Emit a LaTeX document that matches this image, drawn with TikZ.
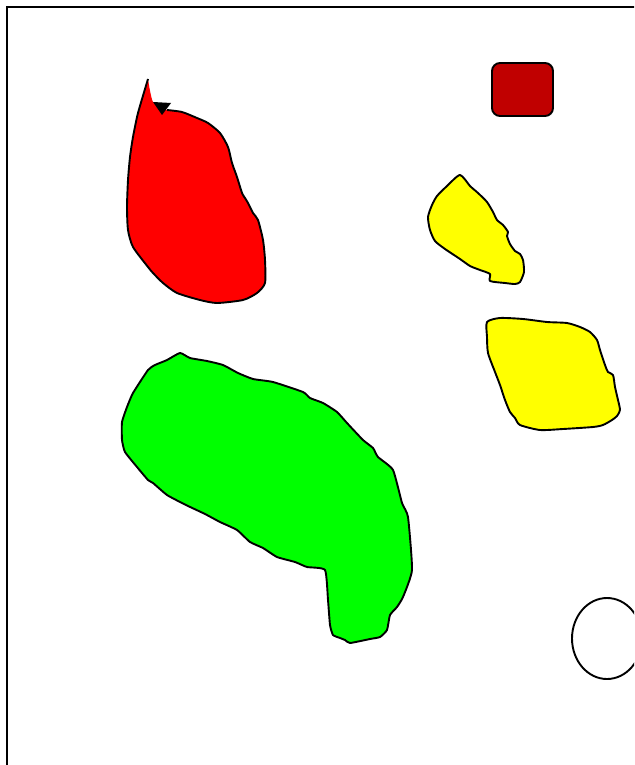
\documentclass[tikz,border=0pt]{standalone}
\usepackage{tikz}
\usetikzlibrary{arrows.meta}
\definecolor{mRed}{HTML}{FF0000}
\definecolor{mDark}{HTML}{C00000}
\definecolor{mGreen}{HTML}{00FF00}
\definecolor{mYellow}{HTML}{FFFF00}
\begin{document}
\begin{tikzpicture}[x=1pt, y=-1pt, outline/.style={draw=black, line width=1.9pt, line join=round}]
    \useasboundingbox (0,0) rectangle (634,765);
    \clip (0,0) rectangle (634,765);
    \draw[line width=1.9pt] (7,800) -- (7,7) -- (700,7);
    % red island with open outline
    \fill[mRed] plot[smooth, tension=0.4] coordinates {(148,79) (153,102) (167,110) (182,112) (197,118) (208,123) (220,133) (228,147) (232,163) (237,177) (242,193) (245,198) (248,203) (253,213) (258,220) (263,240) (265,260) (265,283) (257,293) (243,300) (217,303) (200,300) (177,293) (163,283) (153,273) (148,267) (133,247) (128,230) (127,207) (128,180) (130,157) (133,137) (138,113) (148,79)} -- cycle;
    \draw[outline] plot[smooth, tension=0.4] coordinates {(167,110) (182,112) (197,118) (208,123) (220,133) (228,147) (232,163) (237,177) (242,193) (245,198) (248,203) (253,213) (258,220) (263,240) (265,260) (265,283) (257,293) (243,300) (217,303) (200,300) (177,293) (163,283) (153,273) (148,267) (133,247) (128,230) (127,207) (128,180) (130,157) (133,137) (138,113) (148,79)};
    \fill[black] (153,102) -- (171,103) -- (162,115) -- cycle;
    % dark red box
    \fill[mDark, outline, rounded corners=8pt] (492,63) rectangle (553,116);
    % small yellow island
    \fill[mYellow, outline] plot[smooth cycle, tension=0.4] coordinates {(460,175) (470,186) (478,193) (487,202) (493,212) (497,220) (503,225) (508,232) (507,236) (510,244) (515,251) (520,254) (523,260) (524,272) (520,282) (515,284) (505,283) (490,281) (490,274) (480,270) (470,266) (460,259) (445,249) (435,241) (430,230) (428,217) (432,205) (437,196) (447,186)};
    % large yellow island
    \fill[mYellow, outline] plot[smooth cycle, tension=0.4] coordinates {(487,322) (500,318) (523,319) (547,322) (567,323) (580,327) (590,332) (597,340) (600,350) (605,365) (608,372) (613,375) (615,387) (618,400) (620,410) (617,416) (612,420) (603,425) (593,427) (563,429) (540,430) (520,425) (515,418) (510,412) (505,400) (500,385) (495,372) (488,353) (487,337)};
    % green island
    \fill[mGreen, outline] plot[smooth cycle, tension=0.3] coordinates {(180,353) (190,358) (207,361) (223,365) (238,373) (253,379) (273,382) (303,392) (310,398) (323,403) (337,412) (347,423) (363,440) (373,448) (378,457) (393,470) (402,503) (408,517) (412,570) (403,597) (397,607) (390,615) (387,630) (380,637) (370,639) (350,643) (345,640) (340,638) (333,635) (330,625) (328,600) (325,570) (307,567) (295,562) (277,557) (263,548) (250,542) (237,530) (220,522) (205,514) (188,506) (182,503) (167,495) (153,483) (148,480) (137,467) (125,452) (122,440) (122,422) (127,407) (133,393) (148,370) (155,365) (167,360)};
    % circle at the right edge
    \draw[outline] (607,638.5) ellipse (35 and 40.5);
\end{tikzpicture}
\end{document}
